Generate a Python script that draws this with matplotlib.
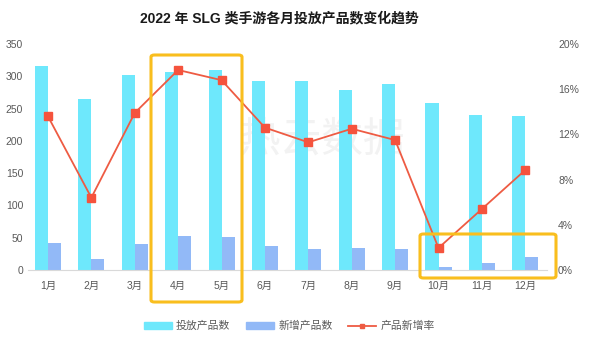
import numpy as np
import matplotlib.pyplot as plt
from matplotlib.patches import FancyBboxPatch
from matplotlib.lines import Line2D
from matplotlib.patches import Patch

plt.rcParams['font.family'] = ['Liberation Sans', 'Noto Sans CJK SC', 'DejaVu Sans']

months = ['1月', '2月', '3月', '4月', '5月', '6月', '7月', '8月', '9月', '10月', '11月', '12月']
launched = [316, 265, 302, 306, 310, 293, 293, 279, 288, 258, 240, 239]
new_added = [42, 17, 40, 53, 51, 37, 32, 34, 32, 4, 11, 20]
growth = [13.6, 6.4, 13.9, 17.7, 16.8, 12.6, 11.3, 12.5, 11.5, 1.95, 5.4, 8.85]

c_launch = '#6EE8FC'
c_new = '#92B9F7'
c_line = '#EE5B43'
c_box = '#F9BE1E'
c_text = '#595959'

fig = plt.figure(figsize=(5.9, 3.38), dpi=100)
ax = fig.add_axes([28/590, 1-270/338, 519/590, 226/338])
x = np.arange(len(months))
w = 0.3

# faint watermark
ax.text(6.3, 200, '热云数据', fontsize=30, color='#F2F2F2', ha='center', va='center', zorder=0)

ax.bar(x - w/2, launched, w, color=c_launch, zorder=2)
ax.bar(x + w/2, new_added, w, color=c_new, zorder=2)
ax.set_xlim(-0.46, 11.5)
ax.set_ylim(0, 350)
ax.set_yticks(range(0, 351, 50))
ax.set_xticks(x)
ax.set_xticklabels(months)
for s in ['top', 'right', 'left']:
    ax.spines[s].set_visible(False)
ax.spines['bottom'].set_color('#D9D9D9')
ax.tick_params(axis='both', length=0, colors=c_text, labelsize=7.5)
ax.tick_params(axis='x', pad=8)

ax2 = ax.twinx()
ax2.plot(x, growth, color=c_line, lw=1.3, marker='s', markersize=6,
         markerfacecolor='#F5533D', markeredgecolor='#F5533D', zorder=3)
ax2.set_ylim(0, 20)
ax2.set_yticks(range(0, 21, 4))
ax2.set_yticklabels([f'{v}%' for v in range(0, 21, 4)])
for s in ['top', 'right', 'left', 'bottom']:
    ax2.spines[s].set_visible(False)
ax2.tick_params(axis='y', length=0, colors=c_text, labelsize=7.5, pad=8)

# highlight boxes (figure pixel coords)
def box(x0, y0, x1, y1):
    p = FancyBboxPatch((x0/590, 1-y1/338), (x1-x0)/590, (y1-y0)/338,
                       boxstyle='round,pad=0,rounding_size=0.006',
                       transform=fig.transFigure, fill=False,
                       edgecolor=c_box, lw=2.2, zorder=10)
    fig.add_artist(p)

box(151, 55, 242, 302)
box(420, 234, 556, 278)

fig.text(0.473, 0.945, '2022 年 SLG 类手游各月投放产品数变化趋势', ha='center', va='center',
         fontsize=10, fontweight='bold', color='#1a1a1a')

handles = [Patch(color=c_launch), Patch(color=c_new),
           Line2D([0], [0], color=c_line, marker='s', markersize=3.5, lw=1.3)]
fig.legend(handles, ['投放产品数', '新增产品数', '产品新增率'], loc='center',
           bbox_to_anchor=(0.49, 0.035), ncol=3, frameon=False, fontsize=7.8,
           labelcolor=c_text, handlelength=2.6, handleheight=0.6, columnspacing=1.4,
           handletextpad=0.4)

plt.savefig('out.png', dpi=100)
